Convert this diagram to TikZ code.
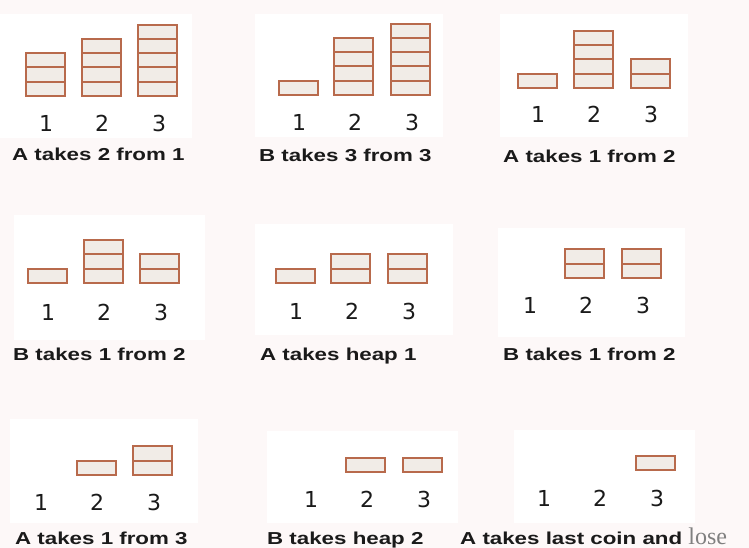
\documentclass[tikz,border=0pt]{standalone}
\usepackage{fontspec}
\setmainfont{Liberation Sans}
\newfontfamily\labfont[FakeStretch=1.29]{Liberation Sans}
\newfontfamily\digfont{DejaVu Sans}
\newfontfamily\losefont{Liberation Serif}
\definecolor{bgpink}{HTML}{FDF8F8}
\definecolor{coinfill}{HTML}{F1ECE7}
\definecolor{coinedge}{HTML}{B86A4C}
\definecolor{txt}{HTML}{1A1A1A}
\definecolor{losegray}{HTML}{808080}
\tikzset{
  coinbody/.style={fill=coinfill, draw=none},
  coinline/.style={draw=coinedge, line width=1.7pt},
  panel/.style={fill=white, draw=none},
  digit/.style={anchor=base, inner sep=0pt, text=txt, font=\digfont\fontsize{22}{24}\selectfont},
  caption/.style={anchor=base west, inner sep=0pt, text=txt, font=\labfont\bfseries\fontsize{17.3}{20}\selectfont}
}
\newcommand\heapstack[3]{%
  \fill[coinbody] (#1,#2) rectangle ++(39,{-#3*14.25});
  \foreach \k in {1,...,#3}{%
    \draw[coinline] (#1,{#2-round((\k-1)*14.25)}) -- ++(39,0);
  }%
  \draw[coinline] (#1,#2) rectangle ++(39,{-round(#3*14.25)});
}
\newcommand\heapnums[4]{%
  \node[digit] (n#4a) at (#1,#3) {1};
  \node[digit] (n#4b) at ({#1+56},#3) {2};
  \node[digit] (n#4c) at ({#1+113},#3) {3};
}
\begin{document}
\begin{tikzpicture}[x=1pt,y=-1pt]
\fill[bgpink] (0,0) rectangle (749,548);
\useasboundingbox (0,0) rectangle (749,548);
% panels
\fill[panel] (0,14) rectangle (192,138);
\fill[panel] (255,14) rectangle (443,137);
\fill[panel] (500,14) rectangle (688,137);
\fill[panel] (14,215) rectangle (205,340);
\fill[panel] (255,224) rectangle (453,335);
\fill[panel] (498,228) rectangle (685,337);
\fill[panel] (10,419) rectangle (198,523);
\fill[panel] (267,431) rectangle (458,523);
\fill[panel] (514,430) rectangle (695,523);
% heaps
\heapstack{26}{96}{3}\heapstack{82}{96}{4}\heapstack{138}{96}{5}
\heapstack{279}{95}{1}\heapstack{334}{95}{4}\heapstack{391}{95}{5}
\heapstack{518}{88}{1}\heapstack{574}{88}{4}\heapstack{631}{88}{2}
\heapstack{28}{283}{1}\heapstack{84}{283}{3}\heapstack{140}{283}{2}
\heapstack{276}{283}{1}\heapstack{331}{283}{2}\heapstack{388}{283}{2}
\heapstack{565}{278}{2}\heapstack{622}{278}{2}
\heapstack{77}{475}{1}\heapstack{133}{475}{2}
\heapstack{346}{472}{1}\heapstack{403}{472}{1}
\heapstack{636}{470}{1}
% digits
\heapnums{46}{0}{132}{1}
\heapnums{299}{0}{131}{2}
\heapnums{538}{0}{123}{3}
\heapnums{48}{0}{320}{4}
\heapnums{296}{0}{319}{5}
\heapnums{530}{0}{313}{6}
\heapnums{41}{0}{510}{7}
\heapnums{311}{0}{507}{8}
\heapnums{544}{0}{506}{9}
% captions
\node[caption] (c1) at (12,161) {A takes 2 from 1};
\node[caption] (c2) at (259,162) {B takes 3 from 3};
\node[caption] (c3) at (503,163) {A takes 1 from 2};
\node[caption] (c4) at (13,360) {B takes 1 from 2};
\node[caption] (c5) at (260,360) {A takes heap 1};
\node[caption] (c6) at (503,360) {B takes 1 from 2};
\node[caption] (c7) at (15,544) {A takes 1 from 3};
\node[caption] (c8) at (267,544) {B takes heap 2};
\node[caption] (c9) at (460,544) {A takes last coin and {\losefont\mdseries\fontsize{24}{26}\selectfont\color{losegray}lose}};
\end{tikzpicture}
\end{document}
